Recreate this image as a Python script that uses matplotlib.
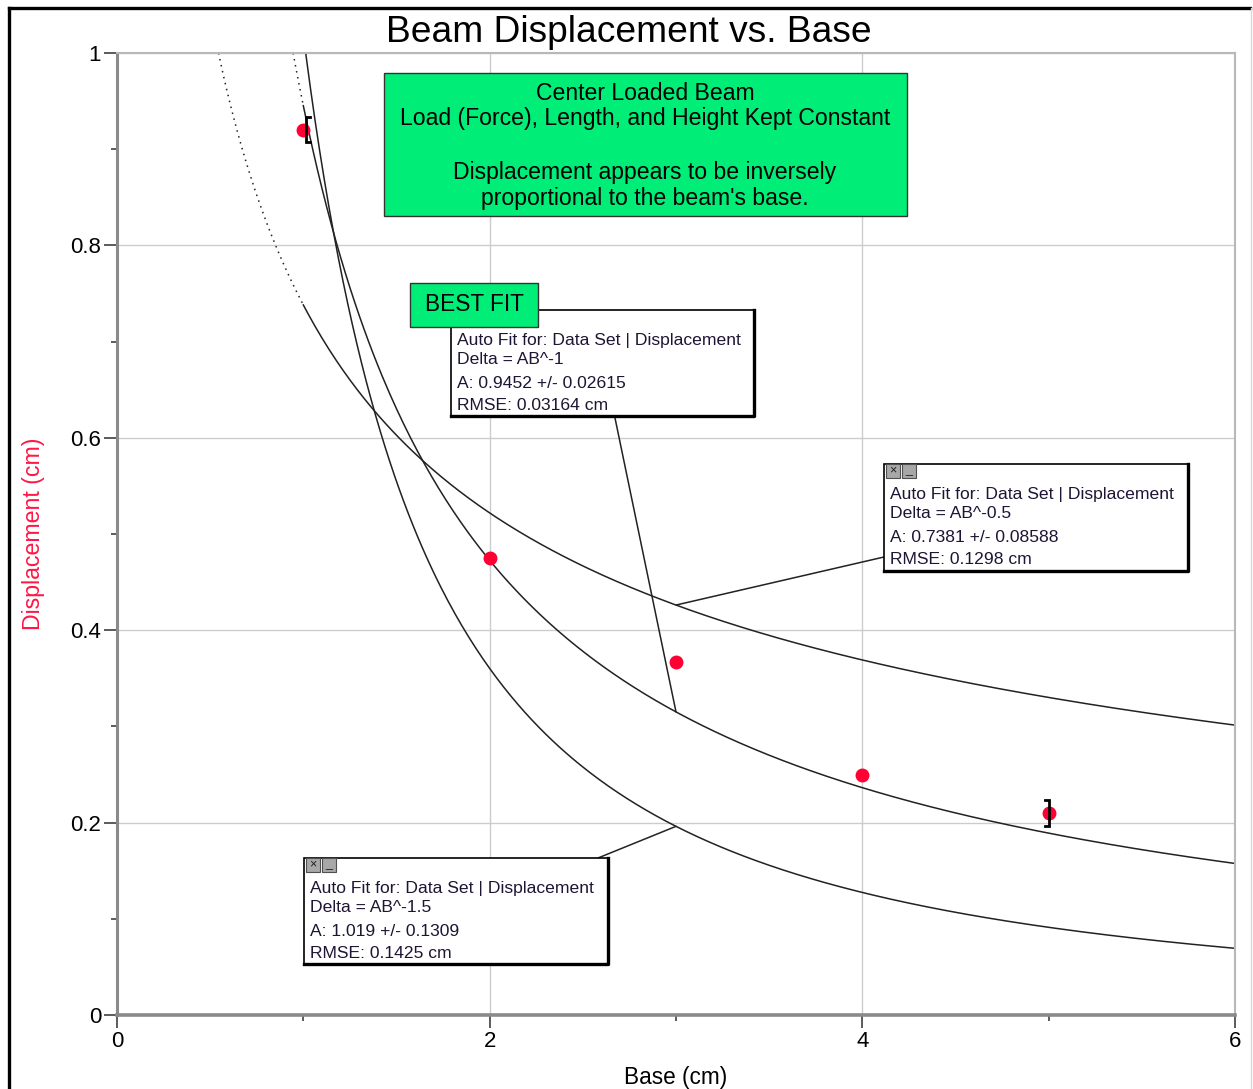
import numpy as np
import matplotlib
matplotlib.use("Agg")
import matplotlib.pyplot as plt
from matplotlib.patches import Rectangle, ConnectionPatch
from matplotlib.lines import Line2D

plt.rcParams['font.family'] = ['Liberation Sans', 'DejaVu Sans']

# measured data
base = [1, 2, 3, 4, 5]
displacement = [0.92, 0.475, 0.367, 0.25, 0.21]
err_x = [1, 5]
err_y = [0.92, 0.21]
err_size = [0.013, 0.014]

# fit results: Delta = A * B^p
fit_powers = [-1.0, -0.5, -1.5]
fit_A = [0.9452, 0.7381, 1.019]
fit_err = ["0.02615", "0.08588", "0.1309"]
fit_rmse = ["0.03164", "0.1298", "0.1425"]

W, H = 1253, 1089
fig = plt.figure(figsize=(W / 100, H / 100), dpi=100)


def px(x, y):
    return x / W, 1 - y / H


l, r, t, b = 117, 1235, 53, 1015
ax = fig.add_axes([l / W, 1 - b / H, (r - l) / W, (b - t) / H])
ax.set_xlim(0, 6)
ax.set_ylim(0, 1)

ax.set_xticks([0, 2, 4, 6])
ax.set_xticks([1, 3, 5], minor=True)
ax.set_yticks([0, 0.2, 0.4, 0.6, 0.8, 1])
ax.set_yticklabels(["0", "0.2", "0.4", "0.6", "0.8", "1"])
ax.set_yticks([0.1, 0.3, 0.5, 0.7, 0.9], minor=True)
ax.tick_params(which='major', length=9.5, width=1.2, color='#404040',
               labelsize=16, pad=2)
ax.tick_params(which='minor', length=4.5, width=1.2, color='#404040')
ax.grid(True, which='major', color='#cccccc', lw=1.0)
ax.set_axisbelow(True)

for side in ['top', 'right']:
    ax.spines[side].set_color('#b8b8b8')
    ax.spines[side].set_linewidth(1.5)
ax.spines['left'].set_color('#8a8a8a')
ax.spines['left'].set_linewidth(2.2)
ax.spines['bottom'].set_color('#8a8a8a')
ax.spines['bottom'].set_linewidth(2.6)

ax.set_xlabel("Base (cm)", fontsize=16.3, labelpad=10)
ax.set_ylabel("Displacement (cm)", fontsize=16.7, color='#ff1744', labelpad=18)

# fit curves: dotted outside the data range, solid across it
x_min = min(base)
for A, p in zip(fit_A, fit_powers):
    x_top = (1.0 / A) ** (1.0 / p)
    if x_top < x_min:
        xs = np.linspace(x_top, x_min, 60)
        ax.plot(xs, A * xs ** p, color='#222222', lw=1.1, ls=(0, (1, 3)))
    xs = np.linspace(max(x_top, x_min), 6, 400)
    ax.plot(xs, A * xs ** p, color='#222222', lw=1.1)

ax.plot(base, displacement, 'o', color='#ff0033', ms=9, zorder=5)

# bracket style error bars
cap = 0.022
for xe, ye, e, d in zip(err_x, err_y, err_size, [1, -1]):
    x0 = xe + (0.016 if d > 0 else 0.004)
    ax.plot([x0 + d * cap, x0, x0, x0 + d * cap], [ye + e, ye + e, ye - e, ye - e],
            color='black', lw=2.0, solid_joinstyle='miter', zorder=6)

fig.text(*px(629, 33), "Beam Displacement vs. Base", fontsize=26.7,
         ha='center', va='center')

# green note boxes
def green_box(x0, y0, x1, y1):
    fig.add_artist(Rectangle(px(x0, y1), (x1 - x0) / W, (y1 - y0) / H,
                             transform=fig.transFigure, facecolor='#00ee77',
                             edgecolor='#333333', lw=1.0, zorder=8))

green_box(384, 73, 907, 216)
note_lines = ["Center Loaded Beam", "Load (Force), Length, and Height Kept Constant",
              "Displacement appears to be inversely", "proportional to the beam's base."]
for txt, yy in zip(note_lines, [93, 119, 172, 198]):
    fig.text(*px(645, yy), txt, fontsize=16.6, ha='center', va='center', zorder=9)


def fit_box(x0, y0, x1, y1, lines, ys, icons):
    fig.add_artist(Rectangle(px(x0, y1), (x1 - x0) / W, (y1 - y0) / H,
                             transform=fig.transFigure, facecolor='white',
                             edgecolor='black', lw=1.2, zorder=8))
    # shadow edges
    fig.add_artist(Line2D([x1 / W, x1 / W, x0 / W], [1 - y0 / H, 1 - y1 / H, 1 - y1 / H],
                          transform=fig.transFigure, color='black', lw=2.4, zorder=9))
    for txt, yy in zip(lines, ys):
        fig.text(*px(x0 + 6, yy), txt, fontsize=12.6, ha='left', va='center',
                 color='#1e1433', zorder=10)
    if icons:
        for k, g in enumerate(["×", "_"]):
            ix = x0 + 2 + k * 16
            fig.add_artist(Rectangle(px(ix, y0 + 14), 14 / W, 14 / H,
                                     transform=fig.transFigure, facecolor='#a8a8a8',
                                     edgecolor='#505050', lw=0.8, zorder=11))
            fig.text(*px(ix + 7, y0 + 6), g, fontsize=9, ha='center', va='center',
                     color='#202020', zorder=12)


boxes = [(451, 310, 754, 416, [341, 359, 384, 405], False, (615, 418)),
         (884, 464, 1188, 571, [494, 513, 538, 559], True, (884, 557)),
         (304, 858, 608, 964, [888, 907, 931, 953], True, (598, 858))]

for (x0, y0, x1, y1, ys, icons, anchor), A, p, e, rm in zip(boxes, fit_A, fit_powers,
                                                           fit_err, fit_rmse):
    ptxt = f"{p:g}"
    lines = ["Auto Fit for: Data Set | Displacement", f"Delta = AB^{ptxt}",
             f"A: {A:g} +/- {e}", f"RMSE: {rm} cm"]
    fit_box(x0, y0, x1, y1, lines, ys, icons)
    xc = 3
    con = ConnectionPatch(xyA=px(*anchor), coordsA=fig.transFigure,
                          xyB=(xc, A * xc ** p), coordsB=ax.transData,
                          color='#222222', lw=1.1, zorder=7)
    fig.add_artist(con)

green_box(410, 283, 538, 327)
fig.text(*px(474, 304), "BEST FIT", fontsize=16.3, ha='center', va='center', zorder=9)

# outer frame
fig.add_artist(Line2D([9 / W, 9 / W], [0, 1 - 8 / H], transform=fig.transFigure,
                      color='black', lw=2.4))
fig.add_artist(Line2D([9 / W, 1250 / W], [1 - 8 / H, 1 - 8 / H], transform=fig.transFigure,
                      color='black', lw=2.4))
fig.add_artist(Line2D([1251 / W, 1251 / W], [0, 1 - 8 / H], transform=fig.transFigure,
                      color='#d8d8d8', lw=1.0))

fig.savefig("out.png", dpi=100)
